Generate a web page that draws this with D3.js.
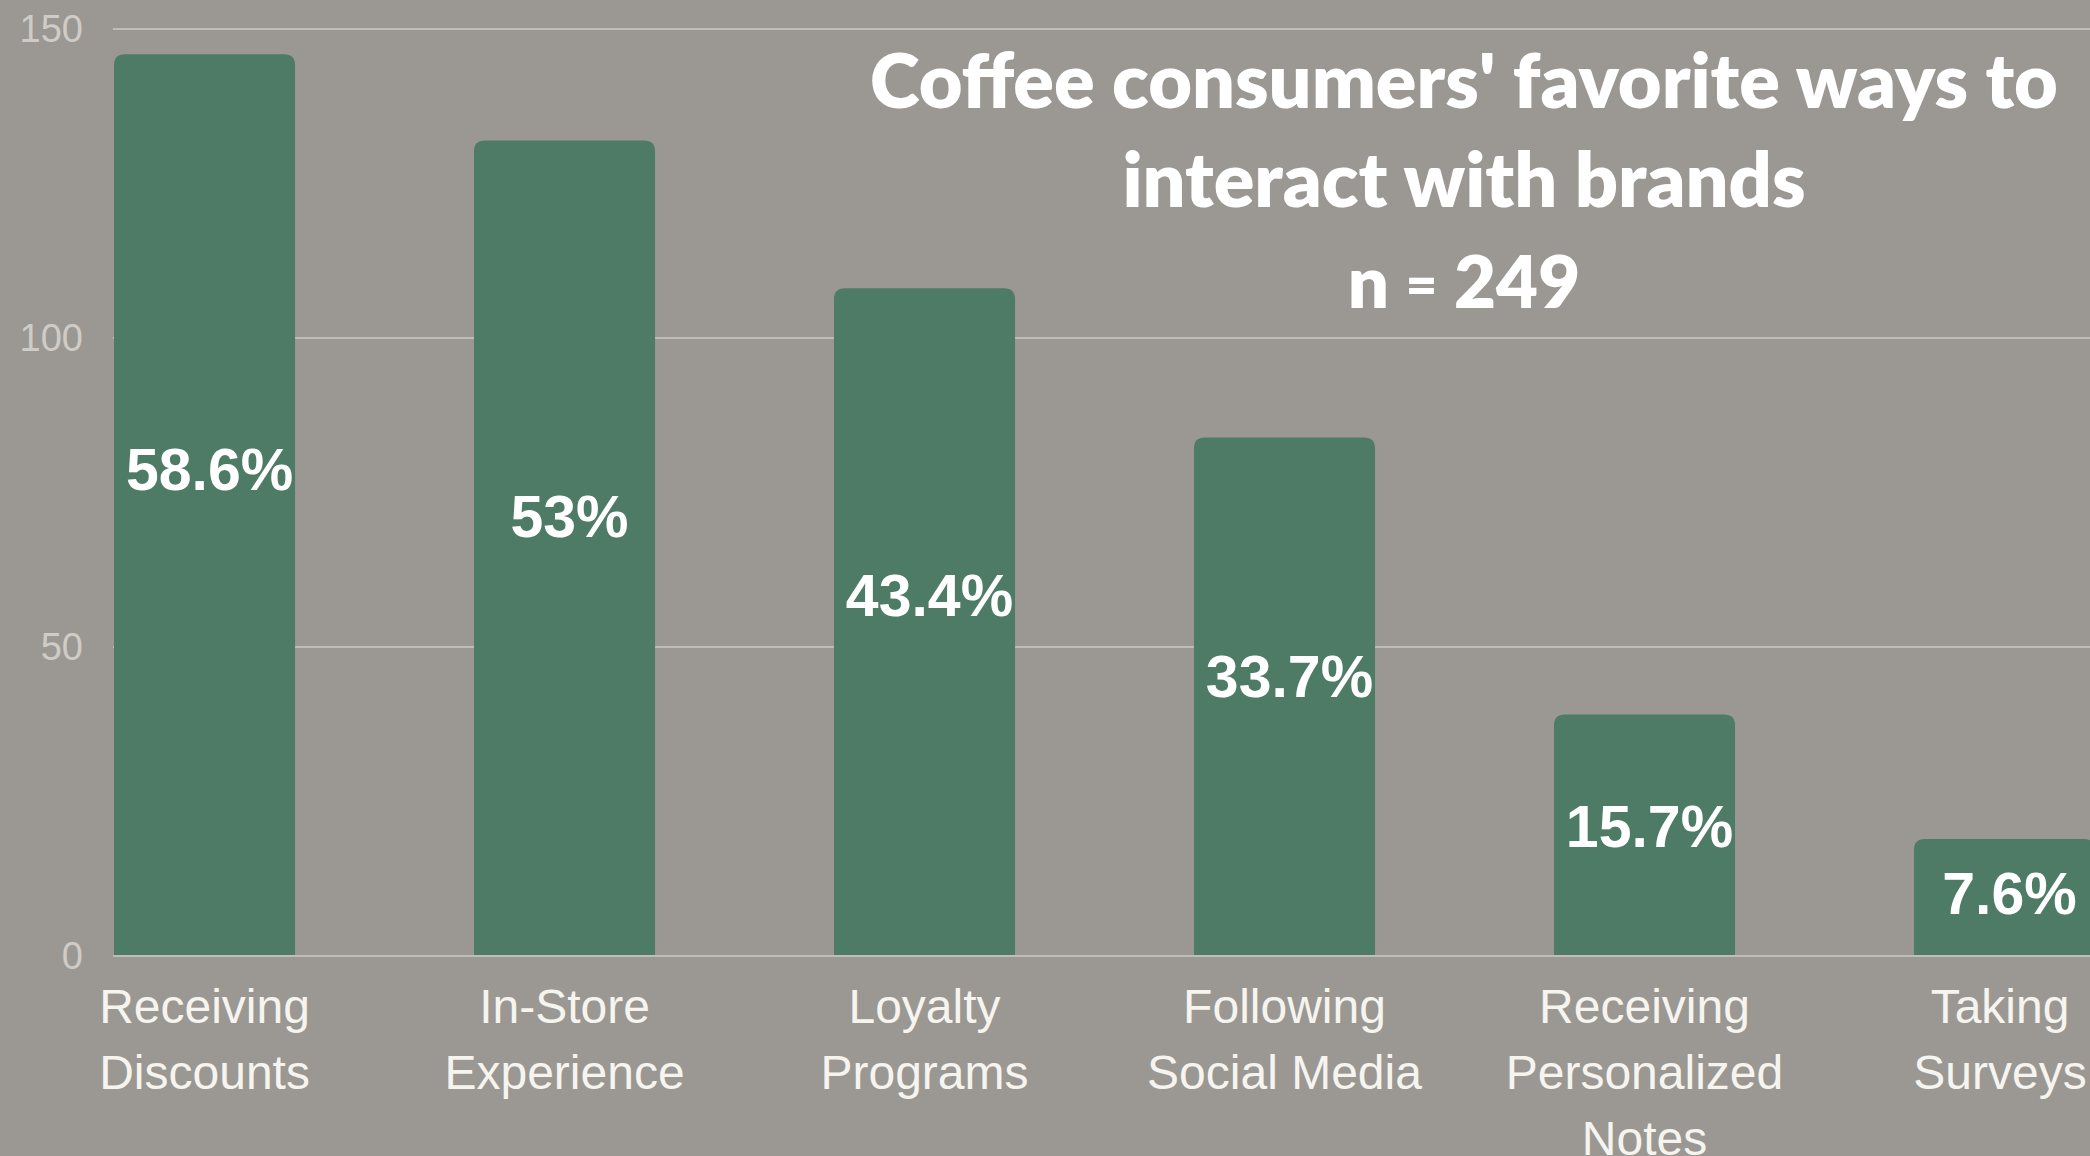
<!DOCTYPE html>
<html>
<head>
<meta charset="utf-8">
<script src="https://cdn.jsdelivr.net/npm/d3@7"></script>
<style>
  html, body { margin: 0; padding: 0; background: #9b9893; overflow: hidden; }
  svg { display: block; }
</style>
</head>
<body>
<svg id="chart" width="2090" height="1156"></svg>
<script>
// Survey: favourite ways coffee consumers interact with brands (n = 249)
const sampleSize = 249;
const categories = [
  "Receiving Discounts",
  "In-Store Experience",
  "Loyalty Programs",
  "Following Social Media",
  "Receiving Personalized Notes",
  "Taking Surveys"
];
const categoryLines = [
  ["Receiving", "Discounts"],
  ["In-Store", "Experience"],
  ["Loyalty", "Programs"],
  ["Following", "Social Media"],
  ["Receiving", "Personalized", "Notes"],
  ["Taking", "Surveys"]
];
const percentages = [58.6, 53, 43.4, 33.7, 15.7, 7.6];
const yTicks = [0, 50, 100, 150];
const titleLines = ["Coffee consumers' favorite ways to", "interact with brands"];

// respondents per category, from the stated share of the sample
const counts = percentages.map(p => p / 100 * sampleSize);

const W = 2090, H = 1156;
const svg = d3.select("#chart");

svg.append("rect").attr("width", W).attr("height", H).attr("fill", "#9b9893");

const y = d3.scaleLinear().domain([0, 150]).range([956, 29]);
const x = d3.scaleBand()
  .domain(categories)
  .range([114, 2095])
  .paddingInner(0.497)
  .paddingOuter(0);

// value axis labels
const yAxis = d3.axisLeft(y).tickValues(yTicks).tickSize(0).tickPadding(30);
const gAxis = svg.append("g").attr("transform", "translate(113,0)").call(yAxis);
gAxis.select(".domain").remove();
gAxis.selectAll("text")
  .attr("fill", "#cfccc7")
  .style("font-family", "'Liberation Sans', Arial, sans-serif")
  .style("font-size", "38px");

// horizontal gridlines
svg.append("g").selectAll("line")
  .data(yTicks)
  .join("line")
  .attr("x1", 113).attr("x2", W)
  .attr("y1", d => y(d)).attr("y2", d => y(d))
  .attr("stroke", "#c0bdb8")
  .attr("stroke-width", 2);

// bars with rounded top corners
const r = 11;
function barPath(x0, x1, top, bottom) {
  return `M${x0},${bottom}V${top + r}Q${x0},${top} ${x0 + r},${top}` +
         `H${x1 - r}Q${x1},${top} ${x1},${top + r}V${bottom}Z`;
}
svg.append("g").selectAll("path")
  .data(categories)
  .join("path")
  .attr("d", (c, i) => barPath(x(c), x(c) + x.bandwidth(), y(counts[i]), y(0)))
  .attr("fill", "#4e7b65");

// baseline drawn over the bars' feet
svg.append("line")
  .attr("x1", 113).attr("x2", W)
  .attr("y1", y(0)).attr("y2", y(0))
  .attr("stroke", "#c0bdb8").attr("stroke-width", 2);

// percentage labels inside bars
svg.append("g").selectAll("text")
  .data(categories)
  .join("text")
  .attr("x", c => x(c) + x.bandwidth() / 2 + 5)
  .attr("y", (c, i) => y(counts[i] * 0.54) + 21)
  .attr("text-anchor", "middle")
  .attr("fill", "#ffffff")
  .style("font-family", "'Liberation Sans', Arial, sans-serif")
  .style("font-weight", "bold")
  .style("font-size", "59px")
  .text((c, i) => percentages[i] + "%");

// category labels, wrapped
const catG = svg.append("g").selectAll("text")
  .data(categories)
  .join("text")
  .attr("text-anchor", "middle")
  .attr("fill", "#f6f4ef")
  .style("font-family", "'Liberation Sans', Arial, sans-serif")
  .style("font-size", "48px");
catG.each(function (c, i) {
  const t = d3.select(this);
  const cx = Math.min(x(c) + x.bandwidth() / 2, W - 90);
  categoryLines[i].forEach((line, k) => {
    t.append("tspan")
      .attr("x", cx)
      .attr("y", 1023 + k * 66)
      .text(line);
  });
});

// title block
const titleX = 1464;
const title = svg.append("g")
  .attr("fill", "#ffffff")
  .style("font-family", "Lato, 'Open Sans', sans-serif")
  .style("font-weight", "800");
const t1 = title.append("text")
  .attr("x", titleX).attr("y", 108)
  .attr("text-anchor", "middle")
  .style("font-size", "72px")
  .text(titleLines[0]);
// fit first title line to its measured span
const w1 = t1.node().getComputedTextLength();
const fs = 72 * 1188 / w1;
t1.style("font-size", fs + "px");
title.append("text")
  .attr("x", titleX).attr("y", 207)
  .attr("text-anchor", "middle")
  .style("font-size", fs + "px")
  .text(titleLines[1]);
const nLine = title.append("text")
  .attr("x", titleX).attr("y", 308)
  .attr("text-anchor", "middle")
  .style("font-size", (fs * 0.96) + "px");
nLine.append("tspan").text("n ");
nLine.append("tspan").style("font-size", (fs * 0.72) + "px").attr("dy", -4).text("=");
nLine.append("tspan").attr("dy", 4).text(" " + sampleSize);
</script>
</body>
</html>
